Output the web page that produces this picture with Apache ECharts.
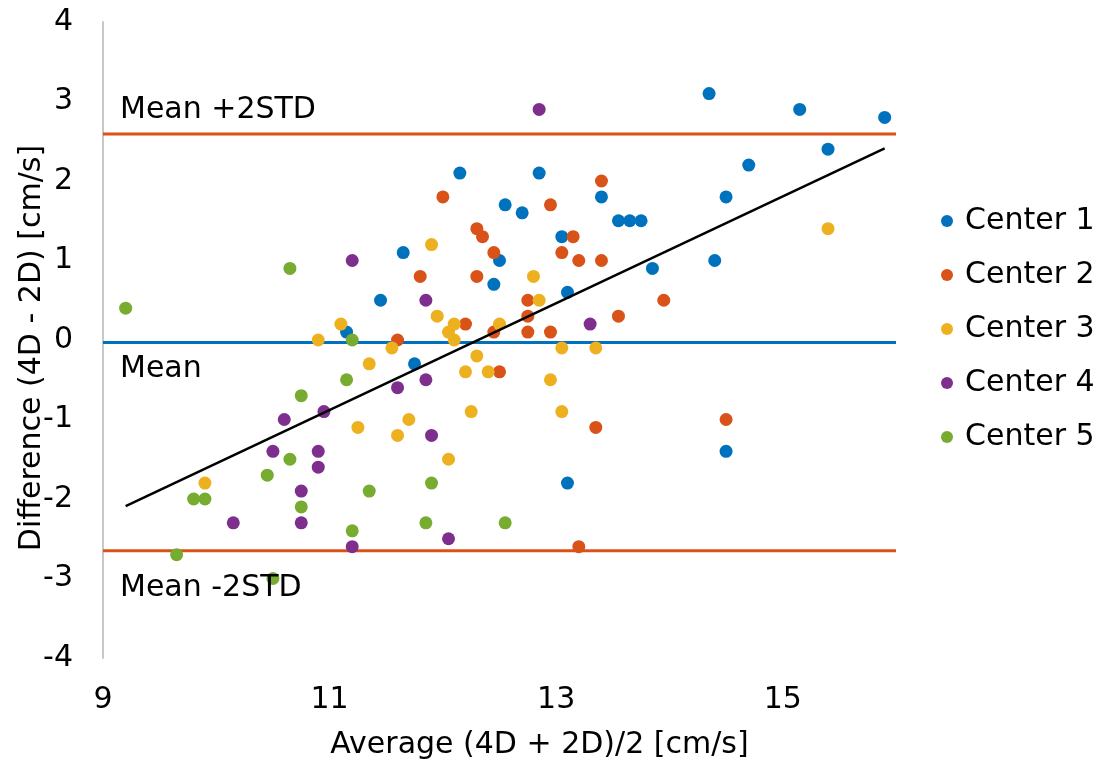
<!DOCTYPE html>
<html>
<head>
<meta charset="utf-8">
<script src="https://cdn.jsdelivr.net/npm/echarts@6/dist/echarts.min.js"></script>
<style>
  html, body { margin: 0; padding: 0; background: #fff; }
  #chart { width: 1103px; height: 773px; }
</style>
</head>
<body>
<div id="chart"></div>
<script>
// Bland-Altman agreement plot: 4D vs 2D velocity measurements per center
const centerNames = ['Center 1', 'Center 2', 'Center 3', 'Center 4', 'Center 5'];
const centerColors = ['#0072BD', '#D95319', '#EDB120', '#7E2F8E', '#77AC30'];

// [average (4D + 2D)/2, difference (4D - 2D)] in cm/s
const center1 = [
  [12.15, 2.1], [11.65, 1.1], [12.5, 1.0], [12.45, 0.7], [11.45, 0.5], [11.15, 0.1],
  [11.75, -0.3], [14.35, 3.1], [15.15, 2.9], [15.9, 2.8], [15.4, 2.4], [14.7, 2.2],
  [12.85, 2.1], [13.4, 1.8], [14.5, 1.8], [12.55, 1.7], [12.7, 1.6], [13.55, 1.5],
  [13.65, 1.5], [13.75, 1.5], [13.05, 1.3], [13.85, 0.9], [14.4, 1.0], [13.1, 0.6],
  [14.5, -1.4], [13.1, -1.8]
];
const center2 = [
  [12.0, 1.8], [12.3, 1.4], [12.35, 1.3], [12.45, 1.1], [11.8, 0.8], [12.3, 0.8],
  [11.6, 0.0], [12.2, 0.2], [12.45, 0.1], [13.4, 2.0], [12.95, 1.7], [13.15, 1.3],
  [13.05, 1.1], [13.2, 1.0], [13.4, 1.0], [12.75, 0.5], [13.95, 0.5], [12.75, 0.3],
  [13.55, 0.3], [12.75, 0.1], [12.95, 0.1], [12.5, -0.4], [14.5, -1.0], [13.35, -1.1],
  [13.2, -2.6]
];
const center3 = [
  [11.9, 1.2], [11.95, 0.3], [11.1, 0.2], [10.9, 0.0], [12.1, 0.2], [12.05, 0.1],
  [12.1, 0.0], [11.55, -0.1], [12.5, 0.2], [11.35, -0.3], [12.3, -0.2], [15.4, 1.4],
  [12.8, 0.8], [12.85, 0.5], [13.05, -0.1], [13.35, -0.1], [12.2, -0.4], [12.4, -0.4],
  [11.7, -1.0], [11.25, -1.1], [11.6, -1.2], [12.25, -0.9], [12.05, -1.5], [9.9, -1.8],
  [12.95, -0.5], [13.05, -0.9]
];
const center4 = [
  [11.2, 1.0], [11.85, 0.5], [12.85, 2.9], [13.3, 0.2], [11.6, -0.6], [11.85, -0.5],
  [10.95, -0.9], [10.6, -1.0], [11.9, -1.2], [10.5, -1.4], [10.9, -1.4], [10.9, -1.6],
  [10.75, -1.9], [10.15, -2.3], [10.75, -2.3], [12.05, -2.5], [11.2, -2.6]
];
const center5 = [
  [9.2, 0.4], [10.65, 0.9], [11.2, 0.0], [11.15, -0.5], [10.75, -0.7], [10.65, -1.5],
  [10.45, -1.7], [9.8, -2.0], [9.9, -2.0], [11.35, -1.9], [11.9, -1.8], [10.75, -2.1],
  [11.85, -2.3], [11.2, -2.4], [9.65, -2.7], [10.5, -3.0], [12.55, -2.3]
];
const centerData = [center1, center2, center3, center4, center5];

// Limits of agreement and bias
const meanDiff = -0.03;
const upperLimit = 2.59;
const lowerLimit = -2.65;
const limitLabels = ['Mean +2STD', 'Mean', 'Mean -2STD'];

// Linear trend of difference against average
const trendX = [9.2, 15.9];
const trendY = [-2.09, 2.41];

// Axis ranges
const xRange = [9, 16];
const yRange = [-4, 4];

const FONT = 'DejaVu Sans';
const chart = echarts.init(document.getElementById('chart'), null, { renderer: 'canvas' });

function hLine(y, color) {
  return {
    type: 'line', silent: true, symbol: 'none', z: 1,
    lineStyle: { color: color, width: 3 },
    data: [[xRange[0], y], [xRange[1], y]]
  };
}

const series = centerNames.map((name, i) => ({
  name: name, type: 'scatter', symbol: 'circle', symbolSize: 13, z: 3,
  itemStyle: { color: centerColors[i], opacity: 1 },
  data: centerData[i]
}));
series.push(hLine(upperLimit, '#D95319'));
series.push(hLine(meanDiff, '#0072BD'));
series.push(hLine(lowerLimit, '#D95319'));
series.push({
  type: 'line', silent: true, symbol: 'none', z: 4,
  lineStyle: { color: '#000', width: 2.5 },
  data: trendX.map((x, i) => [x, trendY[i]])
});

chart.setOption({
  animation: false,
  backgroundColor: '#fff',
  textStyle: { fontFamily: FONT },
  grid: { left: 103, right: 207, top: 22, bottom: 115, containLabel: false, outerBoundsMode: 'none' },
  xAxis: {
    type: 'value', min: xRange[0], max: xRange[1], interval: 2,
    name: 'Average (4D + 2D)/2 [cm/s]', nameLocation: 'middle', nameGap: 72, nameMoveOverlap: false,
    nameTextStyle: { fontSize: 30, color: '#000', fontFamily: FONT, padding: [0, 0, 0, 80] },
    axisLine: { show: false }, axisTick: { show: false }, splitLine: { show: false },
    axisLabel: { fontSize: 30, color: '#000', margin: 27, showMaxLabel: false, fontFamily: FONT }
  },
  yAxis: {
    type: 'value', min: yRange[0], max: yRange[1], interval: 1,
    name: 'Difference (4D - 2D) [cm/s]', nameLocation: 'middle', nameGap: 56, nameMoveOverlap: false,
    nameTextStyle: { fontSize: 30, color: '#000', fontFamily: FONT, padding: [0, 16, 0, 0] },
    axisLine: { show: true, onZero: false, lineStyle: { color: '#c8c8c8', width: 2 } },
    axisTick: { show: false }, splitLine: { show: false },
    axisLabel: { fontSize: 30, color: '#000', margin: 30, fontFamily: FONT }
  },
  legend: {
    data: centerNames, orient: 'vertical', left: 936, top: 201,
    icon: 'circle', itemWidth: 12, itemHeight: 12, itemGap: 24,
    textStyle: { fontSize: 30, color: '#000', fontFamily: FONT, padding: [0, 0, 0, 7] }
  },
  series: series
});

// Text labels for the bias and limits of agreement
const labelX = chart.convertToPixel({ gridIndex: 0 }, [xRange[0], 0])[0] + 17;
const labelOffsets = [-24, 27, 38];
const labelValues = [upperLimit, meanDiff, lowerLimit];
chart.setOption({
  graphic: labelValues.map((v, i) => ({
    type: 'text', z: 10,
    x: labelX,
    y: chart.convertToPixel({ gridIndex: 0 }, [xRange[0], v])[1] + labelOffsets[i],
    style: { text: limitLabels[i], fontSize: 30, fontFamily: FONT, fill: '#000', verticalAlign: 'middle', align: 'left' }
  }))
});
</script>
</body>
</html>
